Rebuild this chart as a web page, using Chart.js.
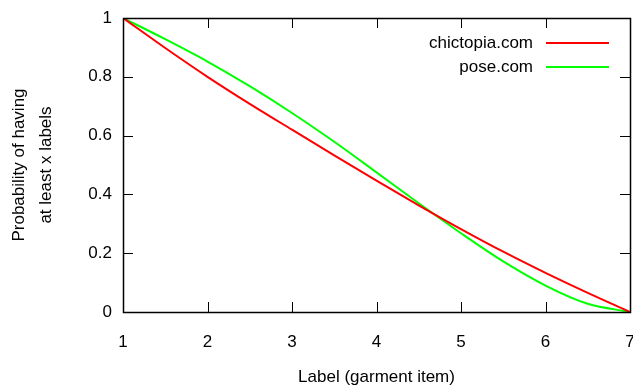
<!DOCTYPE html>
<html>
<head>
<meta charset="utf-8">
<script src="https://cdn.jsdelivr.net/npm/chart.js@4.4.0/dist/chart.umd.min.js"></script>
<style>
    html, body { margin: 0; padding: 0; background: #fff; }
    #wrap { width: 633px; height: 390px; }
</style>
</head>
<body>
<div id="wrap"><canvas id="labelChart" width="633" height="390"></canvas></div>
<script>
// Values
const xValues = [1, 1.5, 2, 2.5, 3, 3.5, 4, 4.5, 5, 5.5, 6, 6.5, 7];
const chictopia = [1, 0.898, 0.8, 0.708, 0.62, 0.533, 0.447, 0.363, 0.282, 0.205, 0.133, 0.065, 0];
const pose = [1, 0.928, 0.852, 0.768, 0.677, 0.579, 0.475, 0.37, 0.268, 0.172, 0.09, 0.028, 0];
const seriesNames = ['chictopia.com', 'pose.com'];
const seriesColors = ['#ff0000', '#00ff00'];

const FONT = '"Liberation Sans", Arial, sans-serif';
const FONT_SIZE = 17;

function toPoints(ys) {
    return xValues.map((x, i) => ({ x: x, y: ys[i] }));
}

// gnuplot-style frame: border plus inward ticks on all four sides
const framePlugin = {
    id: 'frame',
    afterDatasetsDraw(chart) {
        const ctx = chart.ctx;
        const a = chart.chartArea;
        const xs = chart.scales.x;
        const ys = chart.scales.y;
        const len = 10;
        ctx.save();
        ctx.strokeStyle = '#000';
        ctx.lineWidth = 1;
        ctx.beginPath();
        xs.ticks.forEach(t => {
            const px = Math.round(xs.getPixelForValue(t.value)) + 0.5;
            ctx.moveTo(px, a.bottom); ctx.lineTo(px, a.bottom - len);
            ctx.moveTo(px, a.top); ctx.lineTo(px, a.top + len);
        });
        ys.ticks.forEach(t => {
            const py = Math.round(ys.getPixelForValue(t.value)) + 0.5;
            ctx.moveTo(a.left, py); ctx.lineTo(a.left + len, py);
            ctx.moveTo(a.right, py); ctx.lineTo(a.right - len, py);
        });
        ctx.stroke();
        ctx.lineWidth = 1.5;
        ctx.strokeRect(Math.round(a.left) + 0.5, Math.round(a.top) + 0.5,
            Math.round(a.right - a.left), Math.round(a.bottom - a.top));
        ctx.restore();
    }
};

// Legend drawn inside the plot, text on the left, sample line on the right
const keyPlugin = {
    id: 'key',
    afterDraw(chart) {
        const ctx = chart.ctx;
        const a = chart.chartArea;
        ctx.save();
        ctx.font = FONT_SIZE + 'px ' + FONT;
        ctx.fillStyle = '#000';
        ctx.textAlign = 'right';
        ctx.textBaseline = 'middle';
        seriesNames.forEach((name, i) => {
            const y = a.top + 25 + i * 24;
            ctx.fillText(name, a.right - 97, y);
            ctx.strokeStyle = seriesColors[i];
            ctx.lineWidth = 2;
            ctx.beginPath();
            ctx.moveTo(a.right - 84, y);
            ctx.lineTo(a.right - 21, y);
            ctx.stroke();
        });
        ctx.restore();
    }
};

new Chart(document.getElementById('labelChart'), {
    type: 'line',
    data: {
        datasets: [{
            label: seriesNames[0],
            data: toPoints(chictopia),
            borderColor: seriesColors[0],
            borderWidth: 2,
            pointRadius: 0,
            cubicInterpolationMode: 'monotone',
            fill: false
        }, {
            label: seriesNames[1],
            data: toPoints(pose),
            borderColor: seriesColors[1],
            borderWidth: 2,
            pointRadius: 0,
            cubicInterpolationMode: 'monotone',
            fill: false
        }]
    },
    options: {
        responsive: false,
        animation: false,
        devicePixelRatio: 1,
        layout: {
            padding: { left: 0, right: 3, top: 18, bottom: 0 }
        },
        plugins: {
            legend: { display: false },
            tooltip: { enabled: false }
        },
        scales: {
            x: {
                type: 'linear',
                min: 1,
                max: 7,
                border: { display: false },
                grid: { display: false, drawTicks: false },
                ticks: {
                    stepSize: 1,
                    padding: 20,
                    color: '#000',
                    font: { family: FONT, size: FONT_SIZE }
                },
                title: {
                    display: true,
                    text: 'Label (garment item)',
                    color: '#000',
                    font: { family: FONT, size: FONT_SIZE },
                    padding: { top: 0, bottom: 2 }
                },
                afterFit(scale) {
                    scale.height = 78;
                    scale.paddingLeft = 0;
                    scale.paddingRight = 0;
                }
            },
            y: {
                min: 0,
                max: 1,
                border: { display: false },
                grid: { display: false, drawTicks: false },
                ticks: {
                    stepSize: 0.2,
                    padding: 11,
                    color: '#000',
                    font: { family: FONT, size: FONT_SIZE },
                    callback: function(value) {
                        return Math.round(value * 10) / 10 + '';
                    }
                },
                title: {
                    display: true,
                    text: ['Probability of having', 'at least x labels'],
                    color: '#000',
                    font: { family: FONT, size: FONT_SIZE, lineHeight: 1.6 },
                    padding: { top: 6, bottom: 0 }
                },
                afterFit(scale) {
                    scale.width = 123;
                    scale.paddingTop = 0;
                    scale.paddingBottom = 0;
                }
            }
        }
    },
    plugins: [framePlugin, keyPlugin]
});
</script>
</body>
</html>
